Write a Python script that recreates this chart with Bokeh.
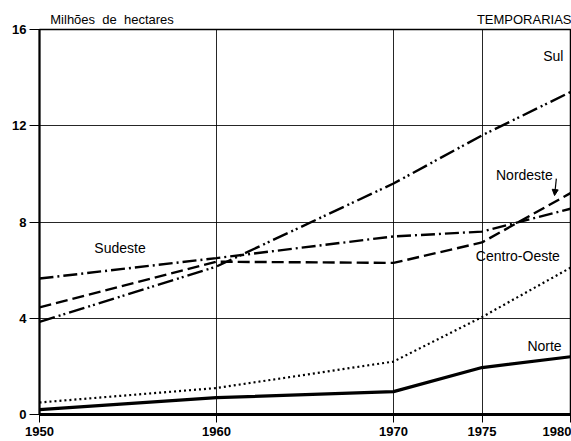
from bokeh.plotting import figure
from bokeh.models import Range1d, FixedTicker, Label, Arrow, NormalHead, LinearAxis
from bokeh.embed import file_html
from bokeh.resources import INLINE

years = [1950, 1960, 1970, 1975, 1980]
sul = [3.85, 6.15, 9.6, 11.6, 13.4]
sudeste = [5.65, 6.5, 7.4, 7.6, 8.55]
nordeste = [4.45, 6.35, 6.3, 7.15, 9.2]
centro_oeste = [0.5, 1.1, 2.2, 4.05, 6.1]
norte = [0.2, 0.7, 0.95, 1.95, 2.4]

x_ticks = [1950, 1960, 1970, 1975, 1980]
y_ticks = [0, 4, 8, 12, 16]
unit_label = "Milhões\u00a0\u00a0de\u00a0\u00a0hectares"
panel_label = "TEMPORARIAS"

p = figure(width=571, height=441, output_backend="svg", toolbar_location=None,
           x_range=Range1d(1950, 1980), y_range=Range1d(0, 16),
           min_border_left=39, min_border_right=1, min_border_top=29, min_border_bottom=27)
p.background_fill_color = "white"
p.border_fill_color = "white"
p.outline_line_color = "black"
p.outline_line_width = 1.5

p.xaxis.ticker = FixedTicker(ticks=x_ticks)
p.yaxis.ticker = FixedTicker(ticks=y_ticks)
for g in (p.xgrid, p.ygrid):
    g.grid_line_color = "black"
    g.grid_line_width = 1
    g.grid_line_alpha = 0.85

font = "Liberation Sans"
for ax in (p.xaxis, p.yaxis):
    ax.axis_line_color = "black"
    ax.major_tick_line_color = "black"
    ax.minor_tick_line_color = None
    ax.major_tick_in = 0
    ax.major_label_text_font = font
    ax.major_label_text_font_size = "13px"
    ax.major_label_text_font_style = "bold"
    ax.major_label_text_color = "black"
p.xaxis.axis_line_width = 3
p.yaxis.axis_line_width = 2
p.xaxis.major_tick_out = 8
p.yaxis.major_tick_out = 10
p.xaxis.major_label_standoff = 4
p.yaxis.major_label_standoff = 3

# header texts placed through an unlined top axis
top = LinearAxis(ticker=FixedTicker(ticks=[1954.1, 1977.4]),
                 major_label_overrides={1954.1: unit_label, 1977.4: panel_label})
top.axis_line_color = None
top.major_tick_line_color = None
top.minor_tick_line_color = None
top.major_tick_out = 0
top.major_tick_in = 0
top.major_label_standoff = 3
top.major_label_text_font = "Liberation Sans"
top.major_label_text_font_size = "13px"
top.major_label_text_color = "black"
p.add_layout(top, "above")

p.line(years, sul, line_color="black", line_width=2.4, line_dash="16 4 2 3 2 4")
p.line(years, sudeste, line_color="black", line_width=2.4, line_dash="14 4 2 4")
p.line(years, nordeste, line_color="black", line_width=2.4, line_dash="12 5")
p.line(years, centro_oeste, line_color="black", line_width=2.2, line_dash="2 3")
p.line(years, norte, line_color="black", line_width=3.2)

lab_font = "Liberation Sans"
def lab(x, y, t, align="left", size="14px", baseline="middle"):
    p.add_layout(Label(x=x, y=y, text=t, text_align=align, text_baseline=baseline,
                       text_font=lab_font, text_font_size=size, text_color="black"))

lab(1979.6, 14.9, "Sul", align="right")
lab(1953.1, 6.9, "Sudeste")
lab(1979.0, 9.95, "Nordeste", align="right")
lab(1979.4, 6.6, "Centro-Oeste", align="right")
lab(1979.5, 2.86, "Norte", align="right")

p.add_layout(Arrow(x_start=1979.2, y_start=9.8, x_end=1979.1, y_end=9.1,
                   line_color="black", line_width=1.2,
                   end=NormalHead(size=6, fill_color="black", line_color="black")))

open("out.html", "w").write(file_html(p, INLINE))
